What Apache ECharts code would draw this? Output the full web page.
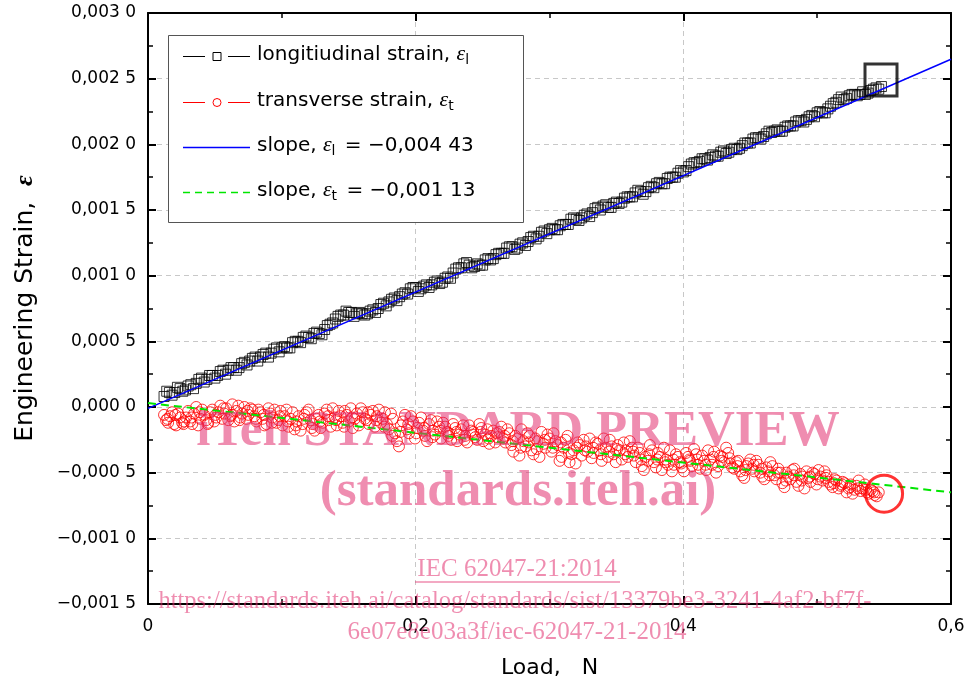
<!DOCTYPE html>
<html>
<head>
<meta charset="utf-8">
<title>Engineering strain vs load</title>
<script src="https://cdn.jsdelivr.net/npm/echarts@6.0.0/dist/echarts.min.js"></script>
<style>
  html, body { margin: 0; padding: 0; background: #fff; }
  #chart { width: 968px; height: 684px; }
</style>
</head>
<body>
<div id="chart"></div>
<script>
// measured points, [load N, strain]
var longitudinal = [
  [0.012, 0.00008], [0.016, 0.00011], [0.020, 0.00011], [0.024, 0.00014], [0.028, 0.00013],
  [0.032, 0.00017], [0.036, 0.00018], [0.040, 0.00022], [0.044, 0.00021], [0.048, 0.00024],
  [0.052, 0.00024], [0.056, 0.00028], [0.060, 0.00028], [0.064, 0.00030], [0.068, 0.00030],
  [0.072, 0.00034], [0.076, 0.00035], [0.080, 0.00038], [0.084, 0.00038], [0.088, 0.00041],
  [0.092, 0.00041], [0.096, 0.00045], [0.100, 0.00045], [0.104, 0.00045], [0.108, 0.00049],
  [0.112, 0.00050], [0.116, 0.00053], [0.120, 0.00053], [0.124, 0.00056], [0.128, 0.00056],
  [0.132, 0.00059], [0.136, 0.00063], [0.140, 0.00067], [0.144, 0.00070], [0.148, 0.00073],
  [0.152, 0.00072], [0.156, 0.00071], [0.160, 0.00071], [0.164, 0.00071], [0.168, 0.00074],
  [0.172, 0.00075], [0.176, 0.00079], [0.180, 0.00080], [0.184, 0.00083], [0.188, 0.00084],
  [0.192, 0.00087], [0.196, 0.00090], [0.200, 0.00091], [0.204, 0.00090], [0.208, 0.00093],
  [0.212, 0.00093], [0.216, 0.00096], [0.220, 0.00095], [0.224, 0.00099], [0.228, 0.00102],
  [0.232, 0.00106], [0.236, 0.00109], [0.240, 0.00108], [0.244, 0.00107], [0.248, 0.00108],
  [0.252, 0.00112], [0.256, 0.00112], [0.260, 0.00116], [0.264, 0.00117], [0.268, 0.00121],
  [0.272, 0.00122], [0.276, 0.00121], [0.280, 0.00125], [0.284, 0.00126], [0.288, 0.00130],
  [0.292, 0.00130], [0.296, 0.00134], [0.300, 0.00135], [0.304, 0.00135], [0.308, 0.00138],
  [0.312, 0.00139], [0.316, 0.00143], [0.320, 0.00143], [0.324, 0.00144], [0.328, 0.00147],
  [0.332, 0.00148], [0.336, 0.00152], [0.340, 0.00153], [0.344, 0.00152], [0.348, 0.00155],
  [0.352, 0.00155], [0.356, 0.00159], [0.360, 0.00160], [0.364, 0.00163], [0.368, 0.00164],
  [0.372, 0.00164], [0.376, 0.00168], [0.380, 0.00170], [0.384, 0.00170], [0.388, 0.00174],
  [0.392, 0.00175], [0.396, 0.00178], [0.400, 0.00179], [0.404, 0.00183], [0.408, 0.00186],
  [0.412, 0.00187], [0.416, 0.00189], [0.420, 0.00190], [0.424, 0.00191], [0.428, 0.00194],
  [0.432, 0.00193], [0.436, 0.00196], [0.440, 0.00196], [0.444, 0.00199], [0.448, 0.00201],
  [0.452, 0.00204], [0.456, 0.00205], [0.460, 0.00206], [0.464, 0.00210], [0.468, 0.00210],
  [0.472, 0.00210], [0.476, 0.00213], [0.480, 0.00214], [0.484, 0.00217], [0.488, 0.00218],
  [0.492, 0.00219], [0.496, 0.00222], [0.500, 0.00224], [0.504, 0.00224], [0.508, 0.00227],
  [0.512, 0.00231], [0.516, 0.00234], [0.520, 0.00234], [0.524, 0.00237], [0.528, 0.00238],
  [0.532, 0.00238], [0.536, 0.00238], [0.540, 0.00241], [0.544, 0.00243], [0.548, 0.00244],
  // second pass of readings, between the ones above
  [0.014, 0.00012], [0.018, 0.00009], [0.022, 0.00015], [0.026, 0.00012], [0.030, 0.00016],
  [0.034, 0.00014], [0.038, 0.00021], [0.042, 0.00019], [0.046, 0.00024], [0.050, 0.00022],
  [0.054, 0.00027], [0.058, 0.00025], [0.062, 0.00030], [0.066, 0.00028], [0.070, 0.00033],
  [0.074, 0.00032], [0.078, 0.00037], [0.082, 0.00035], [0.086, 0.00040], [0.090, 0.00038],
  [0.094, 0.00044], [0.098, 0.00042], [0.102, 0.00046], [0.106, 0.00045], [0.110, 0.00050],
  [0.114, 0.00049], [0.118, 0.00054], [0.122, 0.00052], [0.126, 0.00057], [0.130, 0.00055],
  [0.134, 0.00062], [0.138, 0.00064], [0.142, 0.00069], [0.146, 0.00070], [0.150, 0.00072],
  [0.154, 0.00069], [0.158, 0.00072], [0.162, 0.00070], [0.166, 0.00073], [0.170, 0.00072],
  [0.174, 0.00078], [0.178, 0.00077], [0.182, 0.00082], [0.186, 0.00081], [0.190, 0.00086],
  [0.194, 0.00086], [0.198, 0.00091], [0.202, 0.00088], [0.206, 0.00092], [0.210, 0.00091],
  [0.214, 0.00095], [0.218, 0.00094], [0.222, 0.00098], [0.226, 0.00098], [0.230, 0.00105],
  [0.234, 0.00106], [0.238, 0.00110], [0.242, 0.00106], [0.246, 0.00109], [0.250, 0.00108],
  [0.254, 0.00113], [0.258, 0.00113], [0.262, 0.00117], [0.266, 0.00117], [0.270, 0.00122],
  [0.274, 0.00120], [0.278, 0.00124], [0.282, 0.00123], [0.286, 0.00129], [0.290, 0.00128],
  [0.294, 0.00133], [0.298, 0.00132], [0.302, 0.00136], [0.306, 0.00135], [0.310, 0.00139],
  [0.314, 0.00139], [0.318, 0.00144], [0.322, 0.00142], [0.326, 0.00146], [0.330, 0.00145],
  [0.334, 0.00151], [0.338, 0.00150], [0.342, 0.00154], [0.346, 0.00152], [0.350, 0.00156],
  [0.354, 0.00156], [0.358, 0.00160], [0.362, 0.00160], [0.366, 0.00165], [0.370, 0.00162],
  [0.374, 0.00167], [0.378, 0.00167], [0.382, 0.00171], [0.386, 0.00170], [0.390, 0.00175],
  [0.394, 0.00175], [0.398, 0.00180], [0.402, 0.00180], [0.406, 0.00185], [0.410, 0.00186],
  [0.414, 0.00189], [0.418, 0.00188], [0.422, 0.00192], [0.426, 0.00191], [0.430, 0.00195],
  [0.434, 0.00194], [0.438, 0.00197], [0.442, 0.00197], [0.446, 0.00201], [0.450, 0.00201],
  [0.454, 0.00205], [0.458, 0.00204], [0.462, 0.00208], [0.466, 0.00209], [0.470, 0.00211],
  [0.474, 0.00210], [0.478, 0.00214], [0.482, 0.00214], [0.486, 0.00218], [0.490, 0.00217],
  [0.494, 0.00221], [0.498, 0.00221], [0.502, 0.00225], [0.506, 0.00224], [0.510, 0.00229],
  [0.514, 0.00232], [0.518, 0.00236], [0.522, 0.00235], [0.526, 0.00238], [0.530, 0.00237],
  [0.534, 0.00240], [0.538, 0.00239], [0.542, 0.00242], [0.546, 0.00242]
];

var transverse = [
  [0.012, -0.00006], [0.015, -0.00012], [0.018, -0.00004], [0.021, -0.00014], [0.024, -0.00008],
  [0.027, -0.00011], [0.030, -0.00003], [0.033, -0.00013], [0.036, 0.00000], [0.039, -0.00009],
  [0.042, -0.00006], [0.045, -0.00012], [0.048, -0.00002], [0.051, -0.00008], [0.054, 0.00001],
  [0.057, -0.00005], [0.060, -0.00010], [0.063, 0.00002], [0.066, -0.00003], [0.069, -0.00008],
  [0.072, 0.00000], [0.075, -0.00006], [0.078, -0.00002], [0.081, -0.00011], [0.084, -0.00004],
  [0.087, -0.00014], [0.090, -0.00001], [0.093, -0.00008], [0.096, -0.00012], [0.099, -0.00003],
  [0.102, -0.00007], [0.105, -0.00015], [0.108, -0.00004], [0.111, -0.00011], [0.114, -0.00018],
  [0.117, -0.00006], [0.120, -0.00002], [0.123, -0.00013], [0.126, -0.00009], [0.129, -0.00016],
  [0.132, -0.00005], [0.135, -0.00010], [0.138, -0.00001], [0.141, -0.00014], [0.144, -0.00007],
  [0.147, -0.00003], [0.150, -0.00011], [0.153, -0.00016], [0.156, -0.00005], [0.159, -0.00001],
  [0.162, -0.00009], [0.165, -0.00013], [0.168, -0.00003], [0.171, -0.00007], [0.174, -0.00012],
  [0.177, -0.00004], [0.180, -0.00017], [0.183, -0.00009], [0.186, -0.00026], [0.189, -0.00014],
  [0.192, -0.00006], [0.195, -0.00020], [0.198, -0.00011], [0.201, -0.00016], [0.204, -0.00008],
  [0.207, -0.00022], [0.210, -0.00013], [0.213, -0.00018], [0.216, -0.00011], [0.219, -0.00024],
  [0.222, -0.00015], [0.225, -0.00020], [0.228, -0.00013], [0.231, -0.00026], [0.234, -0.00017],
  [0.237, -0.00022], [0.240, -0.00014], [0.243, -0.00019], [0.246, -0.00025], [0.249, -0.00016],
  [0.252, -0.00021], [0.255, -0.00028], [0.258, -0.00018], [0.261, -0.00023], [0.264, -0.00015],
  [0.267, -0.00027], [0.270, -0.00020], [0.273, -0.00034], [0.276, -0.00024], [0.279, -0.00017],
  [0.282, -0.00030], [0.285, -0.00022], [0.288, -0.00036], [0.291, -0.00026], [0.294, -0.00019],
  [0.297, -0.00031], [0.300, -0.00024], [0.303, -0.00020], [0.306, -0.00029], [0.309, -0.00038],
  [0.312, -0.00025], [0.315, -0.00042], [0.318, -0.00033], [0.321, -0.00027], [0.324, -0.00037],
  [0.327, -0.00030], [0.330, -0.00024], [0.333, -0.00035], [0.336, -0.00028], [0.339, -0.00041],
  [0.342, -0.00031], [0.345, -0.00025], [0.348, -0.00036], [0.351, -0.00029], [0.354, -0.00040],
  [0.357, -0.00033], [0.360, -0.00026], [0.363, -0.00037], [0.366, -0.00031], [0.369, -0.00045],
  [0.372, -0.00038], [0.375, -0.00029], [0.378, -0.00042], [0.381, -0.00035], [0.384, -0.00048],
  [0.387, -0.00040], [0.390, -0.00033], [0.393, -0.00044], [0.396, -0.00038], [0.399, -0.00046],
  [0.402, -0.00035], [0.405, -0.00041], [0.408, -0.00032], [0.411, -0.00044], [0.414, -0.00037],
  [0.417, -0.00048], [0.420, -0.00040], [0.423, -0.00034], [0.426, -0.00045], [0.429, -0.00038],
  [0.432, -0.00031], [0.435, -0.00043], [0.438, -0.00047], [0.441, -0.00041], [0.444, -0.00052],
  [0.447, -0.00045], [0.450, -0.00040], [0.453, -0.00049], [0.456, -0.00044], [0.459, -0.00053],
  [0.462, -0.00046], [0.465, -0.00042], [0.468, -0.00052], [0.471, -0.00047], [0.474, -0.00058],
  [0.477, -0.00050], [0.480, -0.00055], [0.483, -0.00047], [0.486, -0.00060], [0.489, -0.00053],
  [0.492, -0.00049], [0.495, -0.00057], [0.498, -0.00051], [0.501, -0.00048], [0.504, -0.00056],
  [0.507, -0.00052], [0.510, -0.00059], [0.513, -0.00055], [0.516, -0.00062], [0.519, -0.00057],
  [0.522, -0.00065], [0.525, -0.00059], [0.528, -0.00063], [0.531, -0.00056], [0.534, -0.00062],
  [0.537, -0.00065], [0.540, -0.00063], [0.543, -0.00067], [0.546, -0.00065],
  // second pass of readings
  [0.0135, -0.00010], [0.0165, -0.00007], [0.0195, -0.00013], [0.0225, -0.00005], [0.0255, -0.00012],
  [0.0285, -0.00008], [0.0315, -0.00011], [0.0345, -0.00005], [0.0375, -0.00014], [0.0405, -0.00002],
  [0.0435, -0.00010], [0.0465, -0.00004], [0.0495, -0.00011], [0.0525, -0.00004], [0.0555, -0.00009],
  [0.0585, -0.00001], [0.0615, -0.00007], [0.0645, -0.00011], [0.0675, 0.00001], [0.0705, -0.00005],
  [0.0735, -0.00009], [0.0765, -0.00001], [0.0795, -0.00007], [0.0825, -0.00002], [0.0855, -0.00009],
  [0.0885, -0.00013], [0.0915, -0.00005], [0.0945, -0.00002], [0.0975, -0.00010], [0.1005, -0.00014],
  [0.1035, -0.00002], [0.1065, -0.00009], [0.1095, -0.00017], [0.1125, -0.00007], [0.1155, -0.00013],
  [0.1185, -0.00004], [0.1215, -0.00010], [0.1245, -0.00018], [0.1275, -0.00006], [0.1305, -0.00012],
  [0.1335, -0.00002], [0.1365, -0.00015], [0.1395, -0.00008], [0.1425, -0.00003], [0.1455, -0.00012],
  [0.1485, -0.00006], [0.1515, -0.00001], [0.1545, -0.00009], [0.1575, -0.00014], [0.1605, -0.00004],
  [0.1635, -0.00010], [0.1665, -0.00006], [0.1695, -0.00015], [0.1725, -0.00002], [0.1755, -0.00009],
  [0.1785, -0.00013], [0.1815, -0.00005], [0.1845, -0.00020], [0.1875, -0.00030], [0.1905, -0.00011],
  [0.1935, -0.00017], [0.1965, -0.00007], [0.1995, -0.00024], [0.2025, -0.00012], [0.2055, -0.00018],
  [0.2085, -0.00026], [0.2115, -0.00010], [0.2145, -0.00021], [0.2175, -0.00015], [0.2205, -0.00012],
  [0.2235, -0.00019], [0.2265, -0.00025], [0.2295, -0.00016], [0.2325, -0.00021], [0.2355, -0.00014],
  [0.2385, -0.00027], [0.2415, -0.00018], [0.2445, -0.00023], [0.2475, -0.00013], [0.2505, -0.00026],
  [0.2535, -0.00017], [0.2565, -0.00022], [0.2595, -0.00027], [0.2625, -0.00019], [0.2655, -0.00024],
  [0.2685, -0.00017], [0.2715, -0.00029], [0.2745, -0.00022], [0.2775, -0.00037], [0.2805, -0.00026],
  [0.2835, -0.00020], [0.2865, -0.00033], [0.2895, -0.00024], [0.2925, -0.00038], [0.2955, -0.00028],
  [0.2985, -0.00021], [0.3015, -0.00034], [0.3045, -0.00026], [0.3075, -0.00041], [0.3105, -0.00031],
  [0.3135, -0.00022], [0.3165, -0.00036], [0.3195, -0.00043], [0.3225, -0.00029], [0.3255, -0.00025],
  [0.3285, -0.00034], [0.3315, -0.00039], [0.3345, -0.00027], [0.3375, -0.00033], [0.3405, -0.00024],
  [0.3435, -0.00038], [0.3465, -0.00030], [0.3495, -0.00042], [0.3525, -0.00033], [0.3555, -0.00027],
  [0.3585, -0.00038], [0.3615, -0.00031], [0.3645, -0.00042], [0.3675, -0.00035], [0.3705, -0.00048],
  [0.3735, -0.00041], [0.3765, -0.00033], [0.3795, -0.00046], [0.3825, -0.00038], [0.3855, -0.00031],
  [0.3885, -0.00044], [0.3915, -0.00049], [0.3945, -0.00036], [0.3975, -0.00042], [0.4005, -0.00049],
  [0.4035, -0.00038], [0.4065, -0.00045], [0.4095, -0.00036], [0.4125, -0.00047], [0.4155, -0.00041],
  [0.4185, -0.00033], [0.4215, -0.00044], [0.4245, -0.00050], [0.4275, -0.00037], [0.4305, -0.00042],
  [0.4335, -0.00035], [0.4365, -0.00046], [0.4395, -0.00042], [0.4425, -0.00049], [0.4455, -0.00054],
  [0.4485, -0.00043], [0.4515, -0.00047], [0.4545, -0.00041], [0.4575, -0.00050], [0.4605, -0.00055],
  [0.4635, -0.00049], [0.4665, -0.00045], [0.4695, -0.00055], [0.4725, -0.00050], [0.4755, -0.00061],
  [0.4785, -0.00053], [0.4815, -0.00048], [0.4845, -0.00057], [0.4875, -0.00051], [0.4905, -0.00062],
  [0.4935, -0.00054], [0.4965, -0.00050], [0.4995, -0.00059], [0.5025, -0.00053], [0.5055, -0.00049],
  [0.5085, -0.00057], [0.5115, -0.00061], [0.5145, -0.00056], [0.5175, -0.00060], [0.5205, -0.00058],
  [0.5235, -0.00062], [0.5265, -0.00066], [0.5295, -0.00060], [0.5325, -0.00064], [0.5355, -0.00059],
  [0.5385, -0.00066], [0.5415, -0.00064], [0.5445, -0.00068],
  // third pass, middle of the band
  [0.0145, -0.00009], [0.0205, -0.00006], [0.0265, -0.00013], [0.0325, -0.00008], [0.0385, -0.00004],
  [0.0445, -0.00013], [0.0505, -0.00006], [0.0565, -0.00001], [0.0625, -0.00006], [0.0685, -0.00010],
  [0.0745, -0.00003], [0.0805, -0.00009], [0.0865, -0.00006], [0.0925, -0.00012], [0.0985, -0.00007],
  [0.1045, -0.00011], [0.1105, -0.00014], [0.1165, -0.00009], [0.1225, -0.00016], [0.1285, -0.00011],
  [0.1345, -0.00007], [0.1405, -0.00010], [0.1465, -0.00015], [0.1525, -0.00008], [0.1585, -0.00011],
  [0.1645, -0.00004], [0.1705, -0.00010], [0.1765, -0.00015], [0.1825, -0.00022], [0.1885, -0.00019],
  [0.1945, -0.00013], [0.2005, -0.00020], [0.2065, -0.00016], [0.2125, -0.00023], [0.2185, -0.00018],
  [0.2245, -0.00022], [0.2305, -0.00019], [0.2365, -0.00025], [0.2425, -0.00021], [0.2485, -0.00019],
  [0.2545, -0.00024], [0.2605, -0.00020], [0.2665, -0.00022], [0.2725, -0.00026], [0.2785, -0.00031],
  [0.2845, -0.00027], [0.2905, -0.00032], [0.2965, -0.00025], [0.3025, -0.00031], [0.3085, -0.00027],
  [0.3145, -0.00035], [0.3205, -0.00031], [0.3265, -0.00033], [0.3325, -0.00031], [0.3385, -0.00036],
  [0.3445, -0.00034], [0.3505, -0.00032], [0.3565, -0.00036], [0.3625, -0.00034], [0.3685, -0.00040],
  [0.3745, -0.00036], [0.3805, -0.00040], [0.3865, -0.00042], [0.3925, -0.00040], [0.3985, -0.00043],
  [0.4045, -0.00040], [0.4105, -0.00040], [0.4165, -0.00044], [0.4225, -0.00038], [0.4285, -0.00041],
  [0.4345, -0.00039], [0.4405, -0.00045], [0.4465, -0.00048], [0.4525, -0.00044], [0.4585, -0.00047],
  [0.4645, -0.00052], [0.4705, -0.00050], [0.4765, -0.00056], [0.4825, -0.00052], [0.4885, -0.00056],
  [0.4945, -0.00053], [0.5005, -0.00055], [0.5065, -0.00054], [0.5125, -0.00058], [0.5185, -0.00059],
  [0.5245, -0.00061], [0.5305, -0.00062], [0.5365, -0.00063], [0.5425, -0.00065]
];

// fitted lines, end points over the axis range
var fitLongitudinal = [[0, -0.00001], [0.6, 0.002648]];
var fitTransverse = [[0, 0.00003], [0.6, -0.00065]];

// last points picked out with big markers
var lastLongitudinal = [[0.5477, 0.00249]];
var lastTransverse = [[0.550, -0.00066]];

var xTicks = ['0', '0,2', '0,4', '0,6'];

var legendRows = [
  { label: 'longitiudinal strain, ', sub: 'l', value: '' },
  { label: 'transverse strain, ', sub: 't', value: '' },
  { label: 'slope, ', sub: 'l', value: ' = \u22120,004 43' },
  { label: 'slope, ', sub: 't', value: ' = \u22120,001 13' }
];

var sans = '"DejaVu Sans", "Liberation Sans", Arial, sans-serif';
var serif = '"Liberation Serif", "Times New Roman", serif';
// see-through pink, so the marks under it still show
var pink = 'rgba(226, 48, 111, 0.55)';

function fmtStrain(v) {
  var s = Math.abs(v).toFixed(4).replace('.', ',');
  s = s.slice(0, -1) + ' ' + s.slice(-1);
  return (v < -1e-9 ? '\u2212' : '') + s;
}

function fmtLoad(v) {
  return xTicks[Math.round(v / 0.2)];
}

var axisLine = { show: true, onZero: false, lineStyle: { color: '#000', width: 2 } };
var tick = { show: true, inside: true, length: 8, lineStyle: { color: '#000', width: 2 } };
var minor = { show: true, splitNumber: 2, length: 5, lineStyle: { color: '#000', width: 1.5 } };
var grid = { show: true, lineStyle: { color: '#c8c8c8', type: [5, 4], width: 1 } };

var myChart = echarts.init(document.getElementById('chart'), null, { renderer: 'canvas' });

// legend is drawn by hand so the symbol and subscripts look like the original
var legendGraphics = [{
  type: 'rect', zlevel: 2, z: 20,
  shape: { x: 168.5, y: 35.5, width: 355, height: 187 },
  style: { fill: '#fff', stroke: '#555', lineWidth: 1 }
}];
var rowY = [56.5, 102.5, 147.5, 192.5];
var rowColor = ['#000', '#ff0000', '#0000ff', '#00e600'];
legendRows.forEach(function (row, i) {
  var y = rowY[i];
  if (i < 2) {
    legendGraphics.push({ type: 'line', zlevel: 2, z: 21, shape: { x1: 183, y1: y, x2: 205, y2: y }, style: { stroke: rowColor[i], lineWidth: 1 } });
    legendGraphics.push({ type: 'line', zlevel: 2, z: 21, shape: { x1: 228, y1: y, x2: 250, y2: y }, style: { stroke: rowColor[i], lineWidth: 1 } });
    if (i === 0) {
      legendGraphics.push({ type: 'rect', zlevel: 2, z: 21, shape: { x: 213, y: y - 4, width: 8, height: 8 }, style: { fill: 'none', stroke: '#000', lineWidth: 1 } });
    } else {
      legendGraphics.push({ type: 'circle', zlevel: 2, z: 21, shape: { cx: 217, cy: y, r: 4 }, style: { fill: 'none', stroke: '#ff0000', lineWidth: 1 } });
    }
  } else {
    legendGraphics.push({
      type: 'line', zlevel: 2, z: 21, shape: { x1: 183, y1: y, x2: 250, y2: y },
      style: { stroke: rowColor[i], lineWidth: 1.5, lineDash: i === 3 ? [7, 5] : null }
    });
  }
  legendGraphics.push({
    type: 'text', zlevel: 2, z: 21,
    style: {
      x: 257, y: y - 2, textVerticalAlign: 'middle',
      text: '{a|' + row.label + '}{e|\u03b5}{s|' + row.sub + '}{a|' + row.value + '}',
      rich: {
        a: { fontFamily: sans, fontSize: 20, lineHeight: 26, fill: '#000' },
        e: { fontFamily: serif, fontStyle: 'italic', fontSize: 22, lineHeight: 26, fill: '#000' },
        s: { fontFamily: sans, fontSize: 14, lineHeight: 12, verticalAlign: 'bottom', padding: [0, 3, 0, 0], fill: '#000' }
      }
    }
  });
});

// watermark text of the source document
var watermark = [
  { type: 'text', zlevel: 3, z: 1, silent: true, style: { x: 518, y: 432, text: 'iTeh STANDARD PREVIEW', textAlign: 'center', textVerticalAlign: 'middle', font: 'bold 51px ' + serif, fill: pink } },
  { type: 'text', zlevel: 3, z: 1, silent: true, style: { x: 518, y: 492, text: '(standards.iteh.ai)', textAlign: 'center', textVerticalAlign: 'middle', font: 'bold 51px ' + serif, fill: pink } },
  { type: 'text', zlevel: 3, z: 1, silent: true, style: { x: 517, y: 569, text: 'IEC 62047-21:2014', textAlign: 'center', textVerticalAlign: 'middle', font: '25px ' + serif, fill: pink } },
  { type: 'line', zlevel: 3, z: 1, silent: true, shape: { x1: 415, y1: 582, x2: 620, y2: 582 }, style: { stroke: pink, lineWidth: 1.5 } },
  { type: 'text', zlevel: 3, z: 1, silent: true, style: { x: 515, y: 602, text: 'https://standards.iteh.ai/catalog/standards/sist/13379be3-3241-4af2-bf7f-', textAlign: 'center', textVerticalAlign: 'middle', font: '24.5px ' + serif, fill: pink } },
  { type: 'text', zlevel: 3, z: 1, silent: true, style: { x: 517, y: 632, text: '6e07e8e03a3f/iec-62047-21-2014', textAlign: 'center', textVerticalAlign: 'middle', font: '25px ' + serif, fill: pink } }
];

var option = {
  animation: false,
  backgroundColor: '#fff',
  grid: { left: 148, right: 17, top: 13, bottom: 76, containLabel: false },
  xAxis: [{
    type: 'value', position: 'bottom', min: 0, max: 0.6, interval: 0.2,
    name: 'Load,   N', nameLocation: 'middle', nameGap: 53,
    nameTextStyle: { fontFamily: sans, fontSize: 22, color: '#000' },
    axisLine: axisLine, axisTick: tick, minorTick: minor, splitLine: grid,
    axisLabel: { formatter: fmtLoad, margin: 14, fontFamily: sans, fontSize: 17, color: '#000' }
  }, {
    type: 'value', position: 'top', min: 0, max: 0.6, interval: 0.2,
    axisLine: axisLine, axisTick: tick, minorTick: minor,
    splitLine: { show: false }, axisLabel: { show: false }
  }],
  yAxis: [{
    type: 'value', position: 'left', min: -0.0015, max: 0.003, interval: 0.0005,
    name: '{a|Engineering Strain,  }{e|\u03b5}', nameLocation: 'middle', nameGap: 110,
    nameTextStyle: {
      rich: {
        a: { fontFamily: sans, fontSize: 25, color: '#000' },
        e: { fontFamily: serif, fontStyle: 'italic', fontWeight: 'bold', fontSize: 26, color: '#000' }
      }
    },
    axisLine: axisLine, axisTick: tick, minorTick: minor, splitLine: grid,
    axisLabel: { formatter: fmtStrain, margin: 12, fontFamily: sans, fontSize: 17, color: '#000' }
  }, {
    type: 'value', position: 'right', min: -0.0015, max: 0.003, interval: 0.0005,
    axisLine: axisLine, axisTick: tick, minorTick: minor,
    splitLine: { show: false }, axisLabel: { show: false }
  }],
  graphic: watermark.concat(legendGraphics),
  series: [{
    name: 'longitiudinal strain', type: 'scatter', data: longitudinal,
    symbol: 'rect', symbolSize: 10, zlevel: 1, z: 3,
    itemStyle: { color: 'rgba(255,255,255,0)', borderColor: '#000', borderWidth: 1 }
  }, {
    name: 'transverse strain', type: 'scatter', data: transverse,
    symbol: 'circle', symbolSize: 11, zlevel: 1, z: 3,
    itemStyle: { color: 'rgba(255,255,255,0)', borderColor: '#ff0000', borderWidth: 1 }
  }, {
    name: 'slope l', type: 'line', data: fitLongitudinal, showSymbol: false, zlevel: 1, z: 4,
    lineStyle: { color: '#0000ff', width: 1.5 }
  }, {
    name: 'slope t', type: 'line', data: fitTransverse, showSymbol: false, zlevel: 1, z: 4,
    lineStyle: { color: '#00e600', width: 2, type: [8, 5] }
  }, {
    name: 'last l', type: 'scatter', data: lastLongitudinal, symbol: 'rect', symbolSize: 32, zlevel: 1, z: 5,
    itemStyle: { color: 'rgba(255,255,255,0)', borderColor: '#000', borderWidth: 3 }
  }, {
    name: 'last t', type: 'scatter', data: lastTransverse, symbol: 'circle', symbolSize: 37, zlevel: 1, z: 5,
    itemStyle: { color: 'rgba(255,255,255,0)', borderColor: '#ff0000', borderWidth: 3 }
  }]
};

myChart.setOption(option);
</script>
</body>
</html>
